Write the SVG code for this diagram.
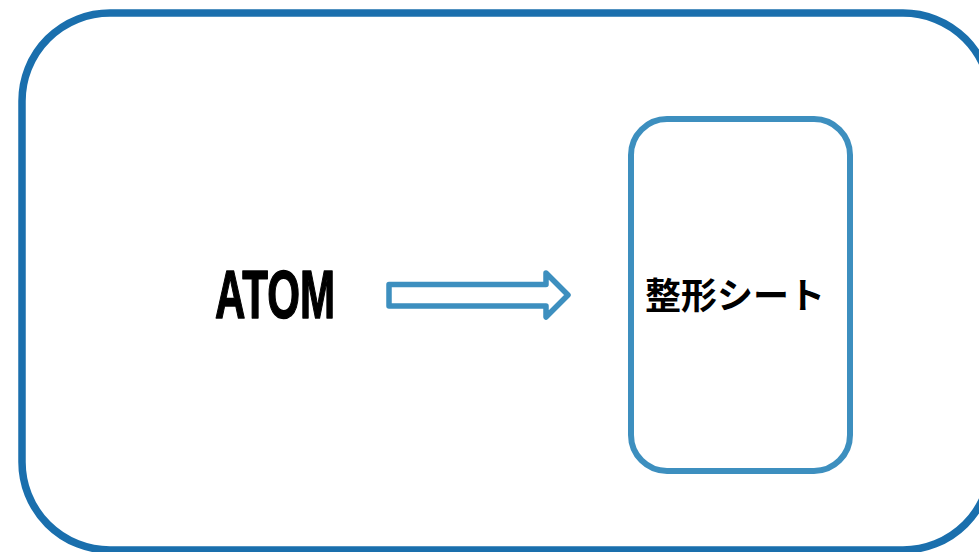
<svg xmlns="http://www.w3.org/2000/svg" width="979" height="552" viewBox="0 0 979 552">
<style>
.outer{fill:none;stroke:#1a6fad;stroke-width:7.5}
.inner{fill:#fff;stroke:#3d8fbf;stroke-width:6}
.arrow{fill:#fff;stroke:#3d8fbf;stroke-width:5.5;stroke-linejoin:round}
.lbl{font-family:"Liberation Sans","Noto Sans CJK JP",sans-serif;font-weight:bold;fill:#000}
.jp{font-family:"Noto Sans CJK JP",sans-serif;font-weight:bold;fill:#000}
</style>
<rect width="979" height="552" fill="#fff"/>
<g id="container">
<rect class="outer" x="22" y="13" width="969" height="537" rx="88" ry="88"/>
</g>
<g id="atom">
<text class="lbl" x="275" y="318" font-size="68" text-anchor="middle" textLength="120" lengthAdjust="spacingAndGlyphs" stroke="#000" stroke-width="1.5" stroke-linejoin="round">ATOM</text>
</g>
<g id="sheet">
<rect class="inner" x="631" y="119" width="219" height="352" rx="36" ry="36"/>
<text class="jp" x="735" y="293" font-size="36" text-anchor="middle" dominant-baseline="central">整形シート</text>
</g>
<g id="connectors">
<polygon class="arrow" points="389,284.5 546,284.5 546,273 568,295 546,317 546,306 389,306"/>
</g>
</svg>
